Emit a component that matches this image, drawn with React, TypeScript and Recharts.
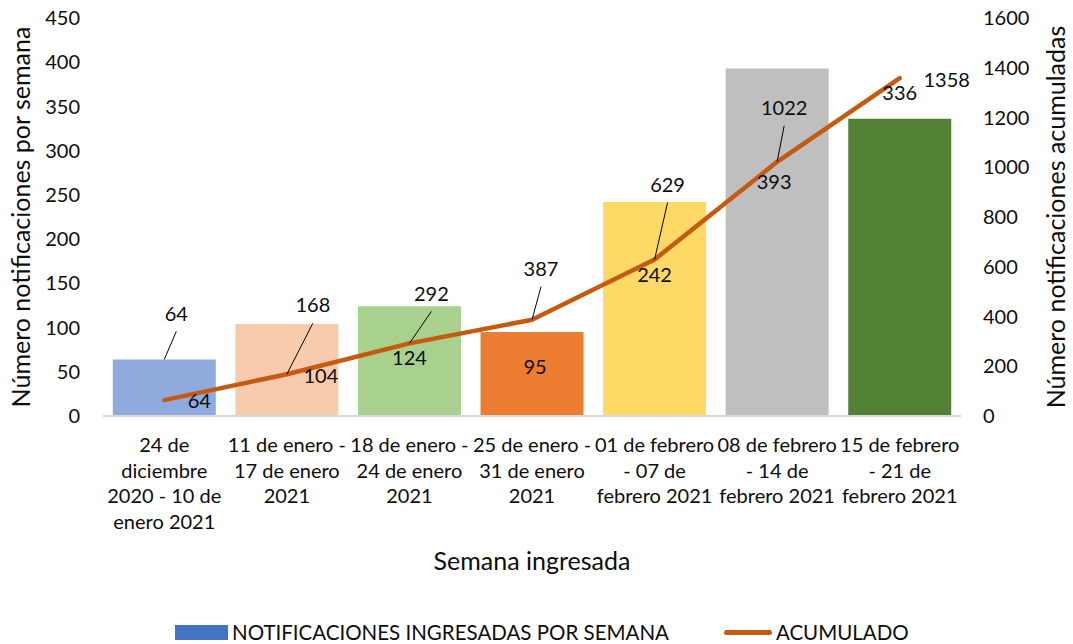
import React from 'react';
import { ComposedChart, Bar, Line, XAxis, YAxis, Legend, LabelList, Cell, Label } from 'recharts';

// ---------- data ----------
const categories = [
  '24 de diciembre 2020 - 10 de enero 2021',
  '11 de enero - 17 de enero 2021',
  '18 de enero - 24 de enero 2021',
  '25 de enero - 31 de enero 2021',
  '01 de febrero - 07 de febrero 2021',
  '08 de febrero - 14 de febrero 2021',
  '15 de febrero - 21 de febrero 2021',
];
const categoryLines = [
  ['24 de', 'diciembre', '2020 - 10 de', 'enero 2021'],
  ['11 de enero -', '17 de enero', '2021'],
  ['18 de enero -', '24 de enero', '2021'],
  ['25 de enero -', '31 de enero', '2021'],
  ['01 de febrero', '- 07 de', 'febrero 2021'],
  ['08 de febrero', '- 14 de', 'febrero 2021'],
  ['15 de febrero', '- 21 de', 'febrero 2021'],
];
const weeklyNotifications = [64, 104, 124, 95, 242, 393, 336];
const cumulative = [64, 168, 292, 387, 629, 1022, 1358];
const leftTicks = [0, 50, 100, 150, 200, 250, 300, 350, 400, 450];
const rightTicks = [0, 200, 400, 600, 800, 1000, 1200, 1400, 1600];

const barSeriesName = 'NOTIFICACIONES INGRESADAS POR SEMANA';
const lineSeriesName = 'ACUMULADO';

// ---------- styles ----------
const barColors = ['#8FAADC', '#F8CBAD', '#A9D18E', '#ED7D31', '#FFD966', '#BFBFBF', '#548235'];
const legendBarColor = '#4472C4';
const lineColor = '#C55A11';
const FONT = "Lato, 'Open Sans', sans-serif";
const TEXT = '#0d0d0d';

// label placement tweaks (relative to the mark, in px)
const barLabelOffsets = [
  { dx: 12, dy: -46, leader: true },
  { dx: 34, dy: 52 },
  { dx: 0, dy: 51 },
  { dx: 3, dy: 35 },
  { dx: 0, dy: 73 },
  { dx: -3, dy: 113 },
  { dx: 0, dy: -26 },
];
const lineLabelOffsets = [
  { dx: 35, dy: 1 },
  { dx: 26, dy: -69, leader: true },
  { dx: 22, dy: -50, leader: true },
  { dx: 9, dy: -51, leader: true },
  { dx: 13, dy: -75, leader: true },
  { dx: 7, dy: -54, leader: true },
  { dx: 47, dy: 2 },
];

const data = categories.map((name, i) => ({
  name,
  semanal: weeklyNotifications[i],
  acumulado: cumulative[i],
}));

const renderLabel = (ax: number, ay: number, value: any, off: any, key: string) => {
  const cx = ax + off.dx;
  const cy = ay + off.dy;
  return (
    <g key={key}>
      {off.leader && <line x1={ax} y1={ay} x2={cx} y2={cy + 18} stroke="#000" strokeWidth={1} />}
      <text x={cx} y={cy} dy="0.36em" textAnchor="middle" fontFamily={FONT} fontSize={20} fill={TEXT}>
        {value}
      </text>
    </g>
  );
};

const BarLabel = (props: any) => {
  const { x, y, width, value, index } = props;
  const off = barLabelOffsets[index] || { dx: 0, dy: -12 };
  return renderLabel(Number(x) + Number(width) / 2, Number(y), value, off, 'b' + index);
};

const LineLabel = (props: any) => {
  const { x, y, value, index } = props;
  const off = lineLabelOffsets[index] || { dx: 0, dy: -12 };
  return renderLabel(Number(x), Number(y), value, off, 'l' + index);
};

const XTick = (props: any) => {
  const { x, y, payload } = props;
  const idx = categories.indexOf(payload.value);
  const lines = categoryLines[idx] || [String(payload.value)];
  return (
    <text x={x} y={y} textAnchor="middle" fontFamily={FONT} fontSize={20} fill={TEXT}>
      {lines.map((l, i) => (
        <tspan key={i} x={x} dy={i === 0 ? 28 : 25.5}>
          {l}
        </tspan>
      ))}
    </text>
  );
};

const LegendContent = (props: any) => {
  const payload = [...(props.payload || [])].sort(
    (a: any, b: any) => (a.type === 'line' ? 1 : 0) - (b.type === 'line' ? 1 : 0)
  );
  return (
    <div
      style={{
        height: 40,
        display: 'flex',
        alignItems: 'flex-end',
        paddingLeft: 175,
        boxSizing: 'border-box',
        fontFamily: FONT,
        fontSize: 20.5,
        color: TEXT,
        lineHeight: '24px',
        paddingBottom: 0,
      }}
    >
      {payload.map((entry: any, i: number) => (
        <div key={i} style={{ display: 'flex', alignItems: 'center', marginLeft: i === 0 ? 0 : 55 }}>
          {entry.type === 'line' ? (
            <span style={{ display: 'inline-block', width: 48, height: 5, borderRadius: 3, background: entry.color, marginRight: 4 }} />
          ) : (
            <span style={{ display: 'inline-block', width: 53, height: 15, background: entry.color, marginRight: 4 }} />
          )}
          <span style={{ whiteSpace: 'nowrap' }}>{entry.value}</span>
        </div>
      ))}
    </div>
  );
};

export default function App() {
  return (
    <div style={{ position: 'absolute', left: 0, top: 0, width: 1073, height: 644, background: '#fff' }}>
      <ComposedChart
        width={1073}
        height={644}
        data={data}
        margin={{ top: 18, right: 0, bottom: 0, left: 0 }}
        barCategoryGap="8%"
      >
        <XAxis
          dataKey="name"
          xAxisId={0}
          height={188}
          interval={0}
          tickLine={false}
          axisLine={{ stroke: '#D9D9D9', strokeWidth: 2 }}
          tick={<XTick />}
        >
          <Label
            content={(p: any) => {
              const vb = p.viewBox || {};
              return (
                <text
                  x={vb.x + vb.width / 2}
                  y={vb.y + 154}
                  textAnchor="middle"
                  fontFamily={FONT}
                  fontSize={25}
                  fill={TEXT}
                >
                  Semana ingresada
                </text>
              );
            }}
          />
        </XAxis>
        <YAxis
          yAxisId="left"
          orientation="left"
          width={103}
          domain={[0, 450]}
          ticks={leftTicks}
          interval={0}
          axisLine={false}
          tickLine={false}
          tickMargin={17}
          tick={{ fontFamily: FONT, fontSize: 20, fill: TEXT }}
        >
          <Label
            content={(p: any) => {
              const vb = p.viewBox || {};
              const x = vb.x + 30;
              const y = vb.y + vb.height / 2;
              return (
                <text
                  x={x}
                  y={y}
                  transform={`rotate(-90, ${x}, ${y})`}
                  textAnchor="middle"
                  fontFamily={FONT}
                  fontSize={25}
                  fill={TEXT}
                >
                  Número notificaciones por semana
                </text>
              );
            }}
          />
        </YAxis>
        <YAxis
          yAxisId="right"
          orientation="right"
          width={112}
          domain={[0, 1600]}
          ticks={rightTicks}
          interval={0}
          axisLine={false}
          tickLine={false}
          tickMargin={16}
          tick={{ fontFamily: FONT, fontSize: 20, fill: TEXT, textAnchor: 'start' }}
        >
          <Label
            content={(p: any) => {
              const vb = p.viewBox || {};
              const x = vb.x + 104;
              const y = vb.y + vb.height / 2;
              return (
                <text
                  x={x}
                  y={y}
                  transform={`rotate(-90, ${x}, ${y})`}
                  textAnchor="middle"
                  fontFamily={FONT}
                  fontSize={25}
                  fill={TEXT}
                >
                  Número notificaciones acumuladas
                </text>
              );
            }}
          />
        </YAxis>
        <Legend
          verticalAlign="bottom"
          align="left"
          itemSorter={null as any}
          content={<LegendContent />}
          wrapperStyle={{ left: 0, width: 1073 }}
        />
        <Bar
          yAxisId="left"
          dataKey="semanal"
          name={barSeriesName}
          fill={legendBarColor}
          isAnimationActive={false}
          legendType="rect"
        >
          {data.map((d, i) => (
            <Cell key={d.name} fill={barColors[i]} />
          ))}
          <LabelList dataKey="semanal" content={<BarLabel />} />
        </Bar>
        <Line
          yAxisId="right"
          dataKey="acumulado"
          name={lineSeriesName}
          stroke={lineColor}
          strokeWidth={4.5}
          strokeLinecap="round"
          strokeLinejoin="round"
          dot={false}
          activeDot={false}
          isAnimationActive={false}
          legendType="line"
        >
          <LabelList dataKey="acumulado" content={<LineLabel />} />
        </Line>
      </ComposedChart>
    </div>
  );
}
